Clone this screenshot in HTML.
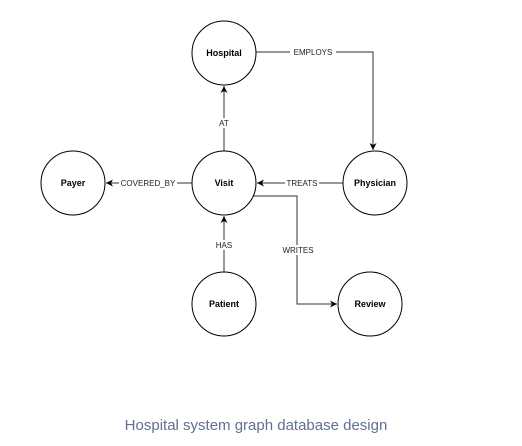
<!DOCTYPE html>
<html><head><meta charset="utf-8"><style>
html,body{margin:0;padding:0;background:#fff;width:522px;height:446px;overflow:hidden}
svg{display:block}
</style></head><body>
<svg width="522" height="446" viewBox="0 0 522 446" xmlns="http://www.w3.org/2000/svg">
<defs><marker id="a" markerWidth="8" markerHeight="8" refX="7" refY="4" orient="auto" markerUnits="userSpaceOnUse"><path d="M0,0.5 L7,4 L0,7.5 L2,4 Z" fill="#000"/></marker></defs>
<g stroke="#333" stroke-width="1" fill="none">
<polyline points="256,52 373,52 373,150" marker-end="url(#a)"/>
<line x1="224" y1="151" x2="224" y2="86" marker-end="url(#a)"/>
<line x1="192" y1="183" x2="106" y2="183" marker-end="url(#a)"/>
<line x1="343" y1="183" x2="257" y2="183" marker-end="url(#a)"/>
<line x1="224" y1="272" x2="224" y2="216" marker-end="url(#a)"/>
<polyline points="246,196 297,196 297,304 337,304" marker-end="url(#a)"/>
</g>
<g stroke="#000" stroke-width="1" fill="#fff">
<circle cx="224" cy="53" r="32"/>
<circle cx="224" cy="183" r="32"/>
<circle cx="73" cy="183" r="32"/>
<circle cx="375" cy="183" r="32"/>
<circle cx="224" cy="304" r="32"/>
<circle cx="370" cy="304" r="32"/>
</g>
<g font-family="Liberation Sans, sans-serif" font-size="9" font-weight="bold" text-anchor="middle" fill="#000">
<text x="224" y="56">Hospital</text>
<text x="224" y="186">Visit</text>
<text x="73" y="186">Payer</text>
<text x="375" y="186">Physician</text>
<text x="224" y="307">Patient</text>
<text x="370" y="307">Review</text>
</g>
<g font-family="Liberation Sans, sans-serif" font-size="8" text-anchor="middle" fill="#222">
<rect x="290" y="47" width="46" height="10" fill="#fff"/><text x="313" y="55">EMPLOYS</text>
<rect x="217" y="118" width="14" height="10" fill="#fff"/><text x="224" y="126">AT</text>
<rect x="119" y="178" width="58" height="10" fill="#fff"/><text x="148" y="186">COVERED_BY</text>
<rect x="285" y="178" width="34" height="10" fill="#fff"/><text x="302" y="186">TREATS</text>
<rect x="215" y="240" width="18" height="10" fill="#fff"/><text x="224" y="248">HAS</text>
<rect x="281" y="245" width="34" height="10" fill="#fff"/><text x="298" y="253">WRITES</text>
</g>
<text x="256" y="430" font-family="Liberation Sans, sans-serif" font-size="15" text-anchor="middle" fill="#5f7090">Hospital system graph database design</text>
</svg>
</body></html>
